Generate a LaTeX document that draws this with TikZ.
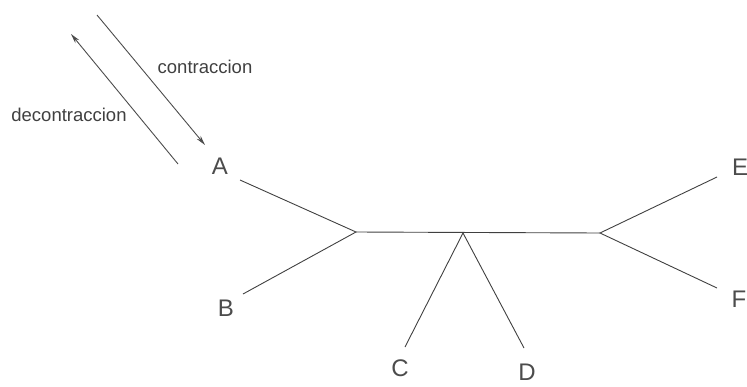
\documentclass[tikz,border=0pt]{standalone}
\usepackage{fontspec}
\setmainfont{Liberation Sans}
\usetikzlibrary{positioning, arrows.meta}

\begin{document}
\begin{tikzpicture}[x=1pt, y=-1pt,
    edge/.style={black!75, line width=0.9pt},
    leaf/.style={font=\fontsize{24}{24}\selectfont, text=black!70, inner sep=0pt},
    move/.style={black!70, line width=0.9pt, -{Stealth[length=10pt, width=5pt]}},
    tag/.style={font=\fontsize{18.5}{18.5}\selectfont, text=black!75, inner sep=0pt}]
    \useasboundingbox (0,0) rectangle (747,386);

    \coordinate (u) at (356,232);
    \coordinate (v) at (463,233);
    \coordinate (w) at (600,233);

    \coordinate (a) at (240,180);
    \coordinate (b) at (243,294);
    \coordinate (c) at (405,347);
    \coordinate (d) at (524,348);
    \coordinate (e) at (717,177);
    \coordinate (f) at (717,288);

    \node[leaf] (A) at (220,166) {A};
    \node[leaf] (B) at (226,308) {B};
    \node[leaf] (C) at (400,368) {C};
    \node[leaf] (D) at (527,372) {D};
    \node[leaf] (E) at (740,167) {E};
    \node[leaf] (F) at (739,299) {F};

    \draw[edge] (a) -- (u) -- (b);
    \draw[edge] (u) -- (w);
    \draw[edge] (c) -- (v) -- (d);
    \draw[edge] (e) -- (w) -- (f);

    \coordinate (ct0) at (97,15);
    \coordinate (ct1) at (205,145);
    \coordinate (dc0) at (178,164);
    \coordinate (dc1) at (71,34);
    \draw[move] (ct0) -- (ct1);
    \draw[move] (dc0) -- (dc1);
    \node[tag] (contr) at (205,67) {contraccion};
    \node[tag] (decontr) at (69,115) {decontraccion};
\end{tikzpicture}
\end{document}
